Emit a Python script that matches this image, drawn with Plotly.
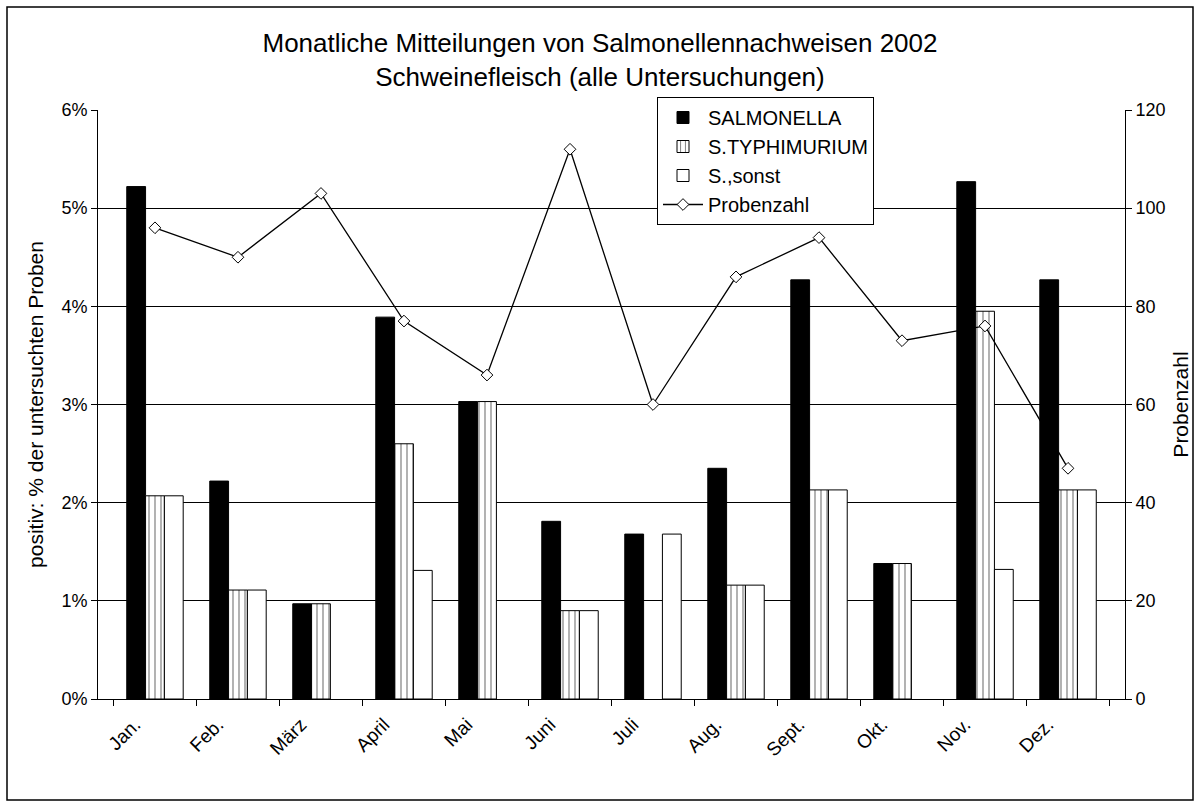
import plotly.graph_objects as go

months = ["Jan.", "Feb.", "März", "April", "Mai", "Juni", "Juli", "Aug.", "Sept.", "Okt.", "Nov.", "Dez."]
salmonella = [5.22, 2.22, 0.97, 3.89, 3.03, 1.81, 1.68, 2.35, 4.27, 1.38, 5.27, 4.27]
typhimurium = [2.07, 1.11, 0.97, 2.60, 3.03, 0.90, None, 1.16, 2.13, 1.38, 3.95, 2.13]
sonst = [2.07, 1.11, None, 1.31, None, 0.90, 1.68, 1.16, 2.13, None, 1.32, 2.13]
probenzahl = [96, 90, 103, 77, 66, 112, 60, 86, 94, 73, 76, 47]

FONT = "Liberation Sans, Arial, sans-serif"

fig = go.Figure()
fig.add_trace(go.Bar(x=months, y=salmonella, name="SALMONELLA",
                     marker=dict(color="black", line=dict(color="black", width=1))))
fig.add_trace(go.Bar(x=months, y=typhimurium, name="S.TYPHIMURIUM",
                     marker=dict(color="white", line=dict(color="black", width=1),
                                 pattern=dict(shape="|", fgcolor="black", bgcolor="white",
                                              size=6, solidity=0.2, fillmode="overlay"))))
fig.add_trace(go.Bar(x=months, y=sonst, name="S.,sonst",
                     marker=dict(color="white", line=dict(color="black", width=1))))
fig.add_trace(go.Scatter(x=months, y=probenzahl, name="Probenzahl", yaxis="y2",
                         mode="lines+markers",
                         line=dict(color="black", width=1.3),
                         marker=dict(symbol="diamond", size=9, color="white",
                                     line=dict(color="black", width=1))))

W, H = 1200, 807
L, R, T, B = 98, 75, 110, 108
pw, ph = W - L - R, H - T - B

def px(x):
    return (x - L) / pw

def py(y):
    return (H - B - y) / ph

fig.update_layout(
    width=W, height=H,
    margin=dict(l=L, r=R, t=T, b=B, autoexpand=False),
    paper_bgcolor="white", plot_bgcolor="white",
    font=dict(family=FONT, size=18, color="black"),
    title=dict(text="Monatliche Mitteilungen von Salmonellennachweisen 2002<br>Schweinefleisch (alle Untersuchungen)",
               x=0.5, xanchor="center", y=1 - 52 / H, yanchor="top",
               font=dict(size=26, family=FONT), automargin=False),
    barmode="group", bargap=0.32, bargroupgap=0,
    showlegend=True,
    legend=dict(x=px(657), y=py(97), xanchor="left", yanchor="top",
                bgcolor="white", bordercolor="black", borderwidth=1,
                font=dict(size=20, family=FONT), tracegroupgap=0, itemwidth=40),
    xaxis=dict(tickangle=-45, showline=True, linecolor="black", linewidth=1,
               ticks="outside", ticklen=6, tickcolor="black", tickson="boundaries",
               tickfont=dict(size=19), showgrid=False, automargin=False,
               ticklabelshift=-20, ticklabelstandoff=6),
    yaxis=dict(range=[0, 6], dtick=1, ticksuffix="%", showline=True, linecolor="black",
               linewidth=1, ticks="outside", ticklen=6, tickcolor="black",
               showgrid=True, gridcolor="black", gridwidth=1, zeroline=False,
               title=dict(text="positiv: % der untersuchten Proben", font=dict(size=21), standoff=12),
               tickfont=dict(size=18), automargin=False),
    yaxis2=dict(range=[0, 120], dtick=20, overlaying="y", side="right", showline=True,
                linecolor="black", linewidth=1, ticks="outside", ticklen=6, tickcolor="black",
                showgrid=False, zeroline=False,
                title=dict(text="Probenzahl", font=dict(size=21), standoff=8),
                tickfont=dict(size=18), automargin=False),
    shapes=[dict(type="rect", xref="paper", yref="paper",
                 x0=px(7), x1=px(1193), y0=py(800), y1=py(7),
                 line=dict(color="black", width=1.5), fillcolor="rgba(0,0,0,0)", layer="below")],
)

fig.write_html("out.html", config={"displayModeBar": False},
               post_script="document.body.style.margin='0';document.body.style.overflow='hidden';")
